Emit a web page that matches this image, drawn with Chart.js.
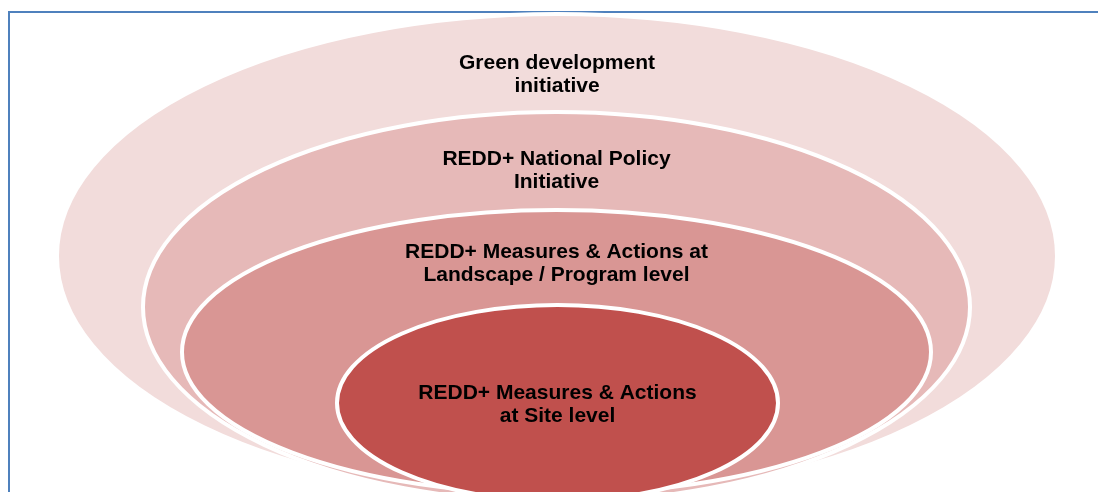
<!DOCTYPE html>
<html>
<head>
<meta charset="utf-8">
<script src="https://cdn.jsdelivr.net/npm/chart.js@4"></script>
<style>
  html, body { margin: 0; padding: 0; background: #fff; }
  #wrap { position: relative; width: 1098px; height: 492px; overflow: hidden; }
  #frame {
    position: absolute; left: 8px; top: 11px; width: 1200px; height: 600px;
    border-top: 2px solid #4F81BD; border-left: 2px solid #4F81BD;
  }
  canvas { position: absolute; left: 0; top: 0; }
</style>
</head>
<body>
<div id="wrap">
  <div id="frame"></div>
  <canvas id="chart" width="1098" height="492"></canvas>
</div>
<script>
// nested levels, outermost first
const levels = [
  ['Green development', 'initiative'],
  ['REDD+ National Policy', 'Initiative'],
  ['REDD+ Measures & Actions at', 'Landscape / Program level'],
  ['REDD+ Measures & Actions', 'at Site level']
];
const centerX = [557, 556.5, 556.5, 557.5];
const centerY = [256, 307, 352, 403];
const radiusX = [500, 413.5, 374.5, 220.5];
const radiusY = [242, 195, 142, 98];
const labelY = [74.5, 171, 263.5, 404.5];

const fills = ['#F2DCDB', '#E6B9B8', '#D99694', '#C0504D'];

const ellipsePlugin = {
  id: 'ellipses',
  afterDatasetsDraw(chart) {
    const ctx = chart.ctx;
    const xs = chart.scales.x, ys = chart.scales.y;
    const pts = chart.data.datasets[0].data;
    ctx.save();
    pts.forEach((p, i) => {
      const cx = xs.getPixelForValue(p.x);
      const cy = ys.getPixelForValue(p.y);
      const rx = Math.abs(xs.getPixelForValue(p.x + p.rx) - cx);
      const ry = Math.abs(ys.getPixelForValue(p.y + p.ry) - cy);
      ctx.beginPath();
      ctx.ellipse(cx, cy, rx, ry, 0, 0, Math.PI * 2);
      ctx.fillStyle = fills[i];
      ctx.fill();
      ctx.lineWidth = 4;
      ctx.strokeStyle = '#ffffff';
      ctx.stroke();
    });
    ctx.fillStyle = '#000';
    ctx.font = 'bold 21px "Liberation Sans", Arial, sans-serif';
    ctx.textAlign = 'center';
    ctx.textBaseline = 'middle';
    pts.forEach((p, i) => {
      const x = xs.getPixelForValue(p.x);
      const y = ys.getPixelForValue(labelY[i]);
      levels[i].forEach((line, j) => {
        ctx.fillText(line, x, y + (j - (levels[i].length - 1) / 2) * 23);
      });
    });
    ctx.restore();
  }
};

const points = levels.map((l, i) => ({
  x: centerX[i], y: centerY[i], rx: radiusX[i], ry: radiusY[i]
}));

new Chart(document.getElementById('chart').getContext('2d'), {
  type: 'scatter',
  data: {
    datasets: [{
      label: 'Levels',
      data: points,
      pointRadius: 0,
      pointHoverRadius: 0
    }]
  },
  options: {
    responsive: false,
    animation: false,
    layout: { padding: 0 },
    plugins: { legend: { display: false }, tooltip: { enabled: false } },
    scales: {
      x: { type: 'linear', min: 0, max: 1098, display: false },
      y: { type: 'linear', min: 0, max: 492, reverse: true, display: false }
    }
  },
  plugins: [ellipsePlugin]
});
</script>
</body>
</html>
